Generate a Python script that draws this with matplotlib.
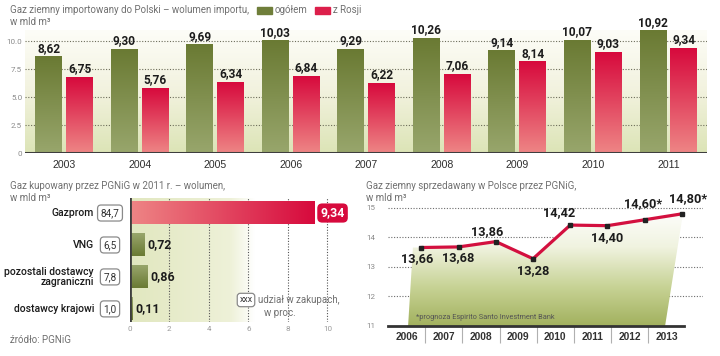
import numpy as np
import matplotlib
matplotlib.use("Agg")
import matplotlib.pyplot as plt
from matplotlib.colors import LinearSegmentedColormap
from matplotlib.patches import Polygon, Rectangle
from matplotlib.transforms import blended_transform_factory

# ── Data ──────────────────────────────────────────────────────────────────────

import_years = ["2003", "2004", "2005", "2006", "2007", "2008", "2009", "2010", "2011"]
import_total = [8.62, 9.30, 9.69, 10.03, 9.29, 10.26, 9.14, 10.07, 10.92]
import_russia = [6.75, 5.76, 6.34, 6.84, 6.22, 7.06, 8.14, 9.03, 9.34]

suppliers = ["Gazprom", "VNG", "pozostali dostawcy\nzagraniczni", "dostawcy krajowi"]
supplier_volume = [9.34, 0.72, 0.86, 0.11]
supplier_share = [84.7, 6.5, 7.8, 1.0]

sales_years = ["2006", "2007", "2008", "2009", "2010", "2011", "2012", "2013"]
sales_volume = [13.66, 13.68, 13.86, 13.28, 14.42, 14.40, 14.60, 14.80]
sales_forecast = [False, False, False, False, False, False, True, True]

# ── Style ─────────────────────────────────────────────────────────────────────

W, H = 720, 356
NARROW = ["Roboto", "DejaVu Sans"]
SANS = ["Liberation Sans", "DejaVu Sans"]
GREY = "#707070"
INK = "#1c1c1c"
VAL = 8.6   # value label size

green_cm = LinearSegmentedColormap.from_list("g", ["#98a66c", "#6a7a33"])
red_cm = LinearSegmentedColormap.from_list("r", ["#ee8585", "#d70a3d"])
bg_cm = LinearSegmentedColormap.from_list("bg", ["#dce4b6", "#f2f2de", "#fdfdf8"])

plt.rcParams["font.family"] = NARROW

fig = plt.figure(figsize=(W / 100, H / 100), dpi=100)
fig.patch.set_facecolor("white")


def px_axes(left, top, right, bottom, **kw):
    return fig.add_axes([left / W, 1 - bottom / H, (right - left) / W, (bottom - top) / H], **kw)


def fmt(v):
    return f"{v:.2f}".replace(".", ",")


def grad_fill(ax, patch, cmap, horizontal=False):
    x, y = patch.get_x(), patch.get_y()
    w, h = patch.get_width(), patch.get_height()
    arr = np.linspace(0, 1, 128).reshape(1, -1) if horizontal else np.linspace(0, 1, 128).reshape(-1, 1)
    ax.imshow(arr, extent=[x, x + w, y, y + h], origin="lower", aspect="auto",
              cmap=cmap, zorder=patch.get_zorder() - 0.1, interpolation="bicubic")


# overlay in pixel coordinates for headings and notes
ov = fig.add_axes([0, 0, 1, 1])
ov.set_xlim(0, W)
ov.set_ylim(H, 0)
ov.axis("off")
ov.patch.set_visible(False)
ov.set_zorder(10)

# ── Top: import volume ────────────────────────────────────────────────────────

ax1 = px_axes(25, 30, 707, 153)
x = np.arange(len(import_years))
xlim1 = (-0.52, 8.51)
ax1.imshow(np.linspace(0, 1, 256).reshape(-1, 1), extent=[*xlim1, 0, 11], origin="lower",
           aspect="auto", cmap=bg_cm, zorder=0)

bw, off = 0.357, 0.205
bars_t = ax1.bar(x - off, import_total, bw, color="none", lw=0, zorder=3)
bars_r = ax1.bar(x + off, import_russia, bw, color="none", lw=0, zorder=3)
for p in bars_t:
    grad_fill(ax1, p, green_cm)
for p in bars_r:
    grad_fill(ax1, p, red_cm)

for bars, vals in ((bars_t, import_total), (bars_r, import_russia)):
    for p, v in zip(bars, vals):
        ax1.annotate(fmt(v), (p.get_x() + p.get_width() / 2, v), xytext=(0, 2),
                     textcoords="offset pixels", ha="center", va="bottom",
                     fontsize=VAL, fontweight="bold", color=INK, zorder=5)

yt = [0, 2.5, 5, 7.5, 10]
for t in yt[1:]:
    ax1.axhline(t, color="#6d6d5a", lw=0.8, ls=(0, (1, 1.5)), zorder=1)
ax1.axhline(0, color="#3e3e3e", lw=2.2, zorder=4)
ax1.set_yticks(yt, ["0", "2.5", "5.0", "7.5", "10.0"])
ax1.set_xticks(x, import_years)
ax1.tick_params(axis="y", length=0, pad=2, labelsize=5.8, labelcolor="#8a8a8a")
ax1.tick_params(axis="x", length=0, pad=5, labelsize=7.6, labelcolor="#2e2e2e")
for lab in ax1.get_xticklabels():
    lab.set_fontfamily(SANS)
ax1.set_xlim(*xlim1)
ax1.set_ylim(0, 11)
for s in ax1.spines.values():
    s.set_visible(False)

ov.text(10, 10, "Gaz ziemny importowany do Polski – wolumen importu,", fontsize=7, color=GREY, va="center")
ov.text(10, 22, "w mld m³", fontsize=7, color=GREY, va="center")
ov.add_patch(Rectangle((257, 6.5), 15, 7.5, color="#6f7e3a"))
ov.text(275, 10, "ogółem", fontsize=7, color=GREY, va="center")
ov.add_patch(Rectangle((315, 6.5), 15, 7.5, color="#dc1f4b"))
ov.text(333, 10, "z Rosji", fontsize=7, color=GREY, va="center")

# ── Bottom left: PGNiG purchases ──────────────────────────────────────────────

ax2 = px_axes(129.5, 198, 330, 322)
yy = np.arange(len(suppliers))
xlim2 = (0, 10.13)
ylim2 = (3.41, -0.47)
cm2 = LinearSegmentedColormap.from_list("bg2", [(0, "#e1e7bf"), (0.5, "#eef1d8"), (0.62, "#ffffff"), (1, "#ffffff")])
ax2.imshow(np.linspace(0, 1, 256).reshape(1, -1), extent=[*xlim2, ylim2[0], ylim2[1]],
           aspect="auto", cmap=cm2, zorder=0)
for t in range(2, 11, 2):
    ax2.axvline(t, color="#555555", lw=0.8, ls=(0, (1, 1.5)), zorder=1)
ax2.axvline(0, color="#3e3e3e", lw=2, zorder=4)

hbars = ax2.barh(yy, supplier_volume, 0.69, color="none", lw=0, zorder=3)
for i, p in enumerate(hbars):
    if i == 0:
        grad_fill(ax2, p, red_cm, horizontal=True)
    else:
        grad_fill(ax2, p, green_cm)

for i, (p, v) in enumerate(zip(hbars, supplier_volume)):
    if i == 0:
        ax2.annotate(fmt(v), (v, i), xytext=(6, 0), textcoords="offset pixels", ha="left",
                     va="center", fontsize=VAL + 0.3, fontweight="bold", color="white", zorder=6,
                     bbox=dict(boxstyle="round,pad=0.25,rounding_size=0.4", fc="#d70a3d", ec="none"),
                     annotation_clip=False)
    else:
        ax2.annotate(fmt(v), (v, i), xytext=(4, 0), textcoords="offset pixels", ha="left",
                     va="center", fontsize=VAL + 0.3, fontweight="bold", color=INK, zorder=6)

tr = blended_transform_factory(ov.transData, ax2.transData)
for i, (name, sh) in enumerate(zip(suppliers, supplier_share)):
    ax2.text(94, i, name, transform=tr, ha="right", va="center", fontsize=7.5, fontweight=500,
             color="#1a1a1a", linespacing=0.95, clip_on=False)
    ax2.text(110, i, f"{sh:.1f}".replace(".", ","), transform=tr, ha="center", va="center",
             fontsize=7.2, color="#333333", clip_on=False,
             bbox=dict(boxstyle="round,pad=0.3,rounding_size=0.35", fc="white", ec="#8a8a8a", lw=0.9))

ax2.set_xticks(range(0, 11, 2))
ax2.set_yticks([])
ax2.tick_params(axis="x", length=0, pad=3, labelsize=5.8, labelcolor="#9a9a9a")
ax2.set_xlim(*xlim2)
ax2.set_ylim(*ylim2)
for s in ax2.spines.values():
    s.set_visible(False)

ov.text(10, 186, "Gaz kupowany przez PGNiG w 2011 r. – wolumen,", fontsize=7, color=GREY, va="center")
ov.text(10, 198, "w mld m³", fontsize=7, color=GREY, va="center")
ov.text(246, 300, "xxx", fontsize=6.3, color="#333333", ha="center", va="center",
        bbox=dict(boxstyle="round,pad=0.25,rounding_size=0.35", fc="white", ec="#8a8a8a", lw=0.9))
ov.text(258, 300, "udział w zakupach,", fontsize=7, color=GREY, va="center")
ov.text(264, 313, "w proc.", fontsize=7, color=GREY, va="center")
ov.text(10, 340, "źródło: PGNiG", fontsize=7, color=GREY, va="center")

# ── Bottom right: PGNiG sales ─────────────────────────────────────────────────

ax3 = px_axes(388, 200, 703, 326)
xlim3 = (-0.5, 7.97)
xs = np.arange(len(sales_years))
xp = xs + 0.4

for t in [12, 13, 14, 15]:
    ax3.axhline(t, color="#6d6d6d", lw=0.8, ls=(0, (1, 1.5)), zorder=1)

verts = [(xp[0] - 0.23, sales_volume[0])] + list(zip(xp, sales_volume)) + \
        [(xp[-1] + 0.03, sales_volume[-1]), (xp[-1] - 0.45, 11), (xp[0] - 0.36, 11)]
poly = Polygon(verts, closed=True, fc="none", ec="none")
ax3.add_patch(poly)
fill_cm = LinearSegmentedColormap.from_list("f", ["#a2b15e", "#c8d396", "#f0f3e0", "#ffffff"])
im = ax3.imshow(np.linspace(0, 1, 256).reshape(-1, 1), extent=[*xlim3, 11, 15], origin="lower",
                aspect="auto", cmap=fill_cm, zorder=2)
im.set_clip_path(poly)

ax3.plot(xp, sales_volume, color="#d3103f", lw=2.3, zorder=3, solid_capstyle="butt")
ax3.plot(xp, sales_volume, "s", color="#222222", ms=3, zorder=4)

label_offsets = [(-4, -11), (0, -11), (-9, 10), (0, -12), (-11, 12), (0, -12), (-2, 16), (6, 15)]
for xv, v, fc, (dx, dy) in zip(xp, sales_volume, sales_forecast, label_offsets):
    ax3.annotate(fmt(v) + ("*" if fc else ""), (xv, v), xytext=(dx, dy), textcoords="offset pixels",
                 ha="center", va="center", fontsize=VAL + 0.6, fontweight="bold", color=INK, zorder=6,
                 annotation_clip=False)

ax3.text(0.25, 11.3, "*prognoza Espirito Santo Investment Bank", fontsize=5.3, color="#555555",
         ha="left", va="center", zorder=5)

ax3.set_xticks(xs, sales_years)
ax3.set_xticks(xs[:-1] + 0.5, minor=True)
ax3.set_yticks([11, 12, 13, 14, 15])
ax3.tick_params(axis="x", which="major", length=0, pad=4, labelsize=7.4, labelcolor="#333333")
ax3.tick_params(axis="x", which="minor", length=12, width=0.8, color="#b0b0b0", direction="out")
ax3.tick_params(axis="y", length=0, pad=9, labelsize=5.8, labelcolor="#8a8a8a")
for lab in ax3.get_xticklabels():
    lab.set_fontfamily(SANS)
    lab.set_fontweight("bold")
ax3.set_xlim(*xlim3)
ax3.set_ylim(11, 15.27)
for k, s in ax3.spines.items():
    s.set_visible(k == "bottom")
ax3.spines["bottom"].set_color("#333333")
ax3.spines["bottom"].set_linewidth(2)
ax3.spines["bottom"].set_bounds(-0.5, 7.45)

ov.text(366, 186, "Gaz ziemny sprzedawany w Polsce przez PGNiG,", fontsize=7, color=GREY, va="center")
ov.text(366, 198, "w mld m³", fontsize=7, color=GREY, va="center")

fig.savefig("out.png", dpi=100)
